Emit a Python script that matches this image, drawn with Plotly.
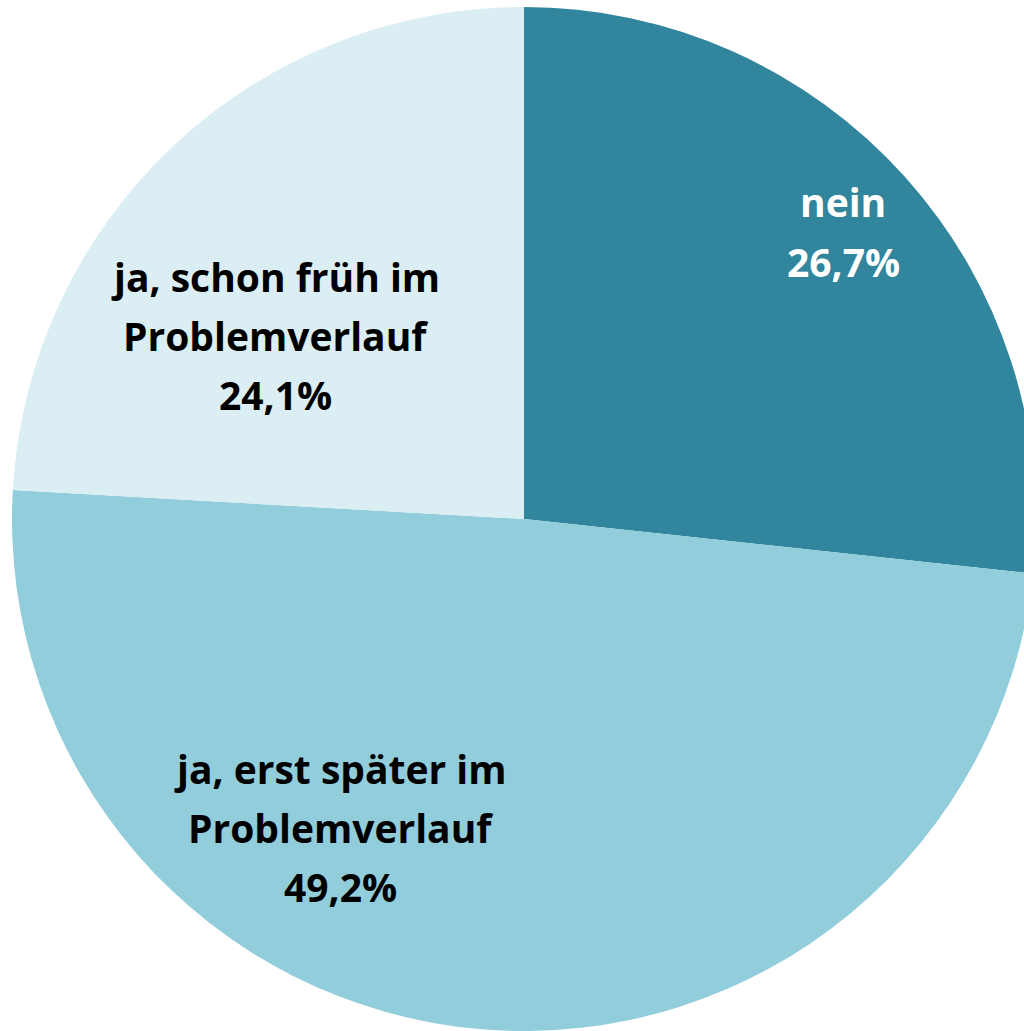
import plotly.graph_objects as go

categories = ["nein", "ja, erst später im Problemverlauf", "ja, schon früh im Problemverlauf"]
label_lines = [["nein"], ["ja, erst später im", "Problemverlauf"], ["ja, schon früh im", "Problemverlauf"]]
values = [26.7, 49.2, 24.1]
colors = ["#31859C", "#92CDDC", "#DAEEF3"]
text_colors = ["#FFFFFF", "#000000", "#000000"]

W, H = 1048, 1031
cx, cy, R = 524, 519, 512

fig = go.Figure(go.Pie(
    labels=categories,
    values=values,
    sort=False,
    direction="clockwise",
    rotation=0,
    marker=dict(colors=colors, line=dict(width=0)),
    textinfo="none",
    hoverinfo="label+percent",
    showlegend=False,
    domain=dict(x=[(cx - R) / W, (cx + R) / W], y=[(H - cy - R) / H, (H - cy + R) / H]),
))

# label centres (pixels) and line pitch
label_pos = [(843, 202), (340, 768), (275, 276)]
pitch = 59
font_family = "Open Sans, sans-serif"
for lines, val, (lx, ly), tc in zip(label_lines, values, label_pos, text_colors):
    all_lines = lines + [f"{val:.1f}".replace(".", ",") + "%"]
    for i, t in enumerate(all_lines):
        fig.add_annotation(
            text=f"<b>{t}</b>", x=lx / W, y=1 - (ly + i * pitch) / H,
            xref="paper", yref="paper", xanchor="center", yanchor="middle",
            showarrow=False, font=dict(family=font_family, size=39, color=tc),
        )

fig.update_layout(
    width=W, height=H,
    margin=dict(l=0, r=0, t=0, b=0),
    paper_bgcolor="white", plot_bgcolor="white",
)

fig.write_html(
    "out.html",
    config={"displayModeBar": False},
    post_script="document.body.style.margin='0';document.body.style.overflow='hidden';document.documentElement.style.overflow='hidden';",
)
